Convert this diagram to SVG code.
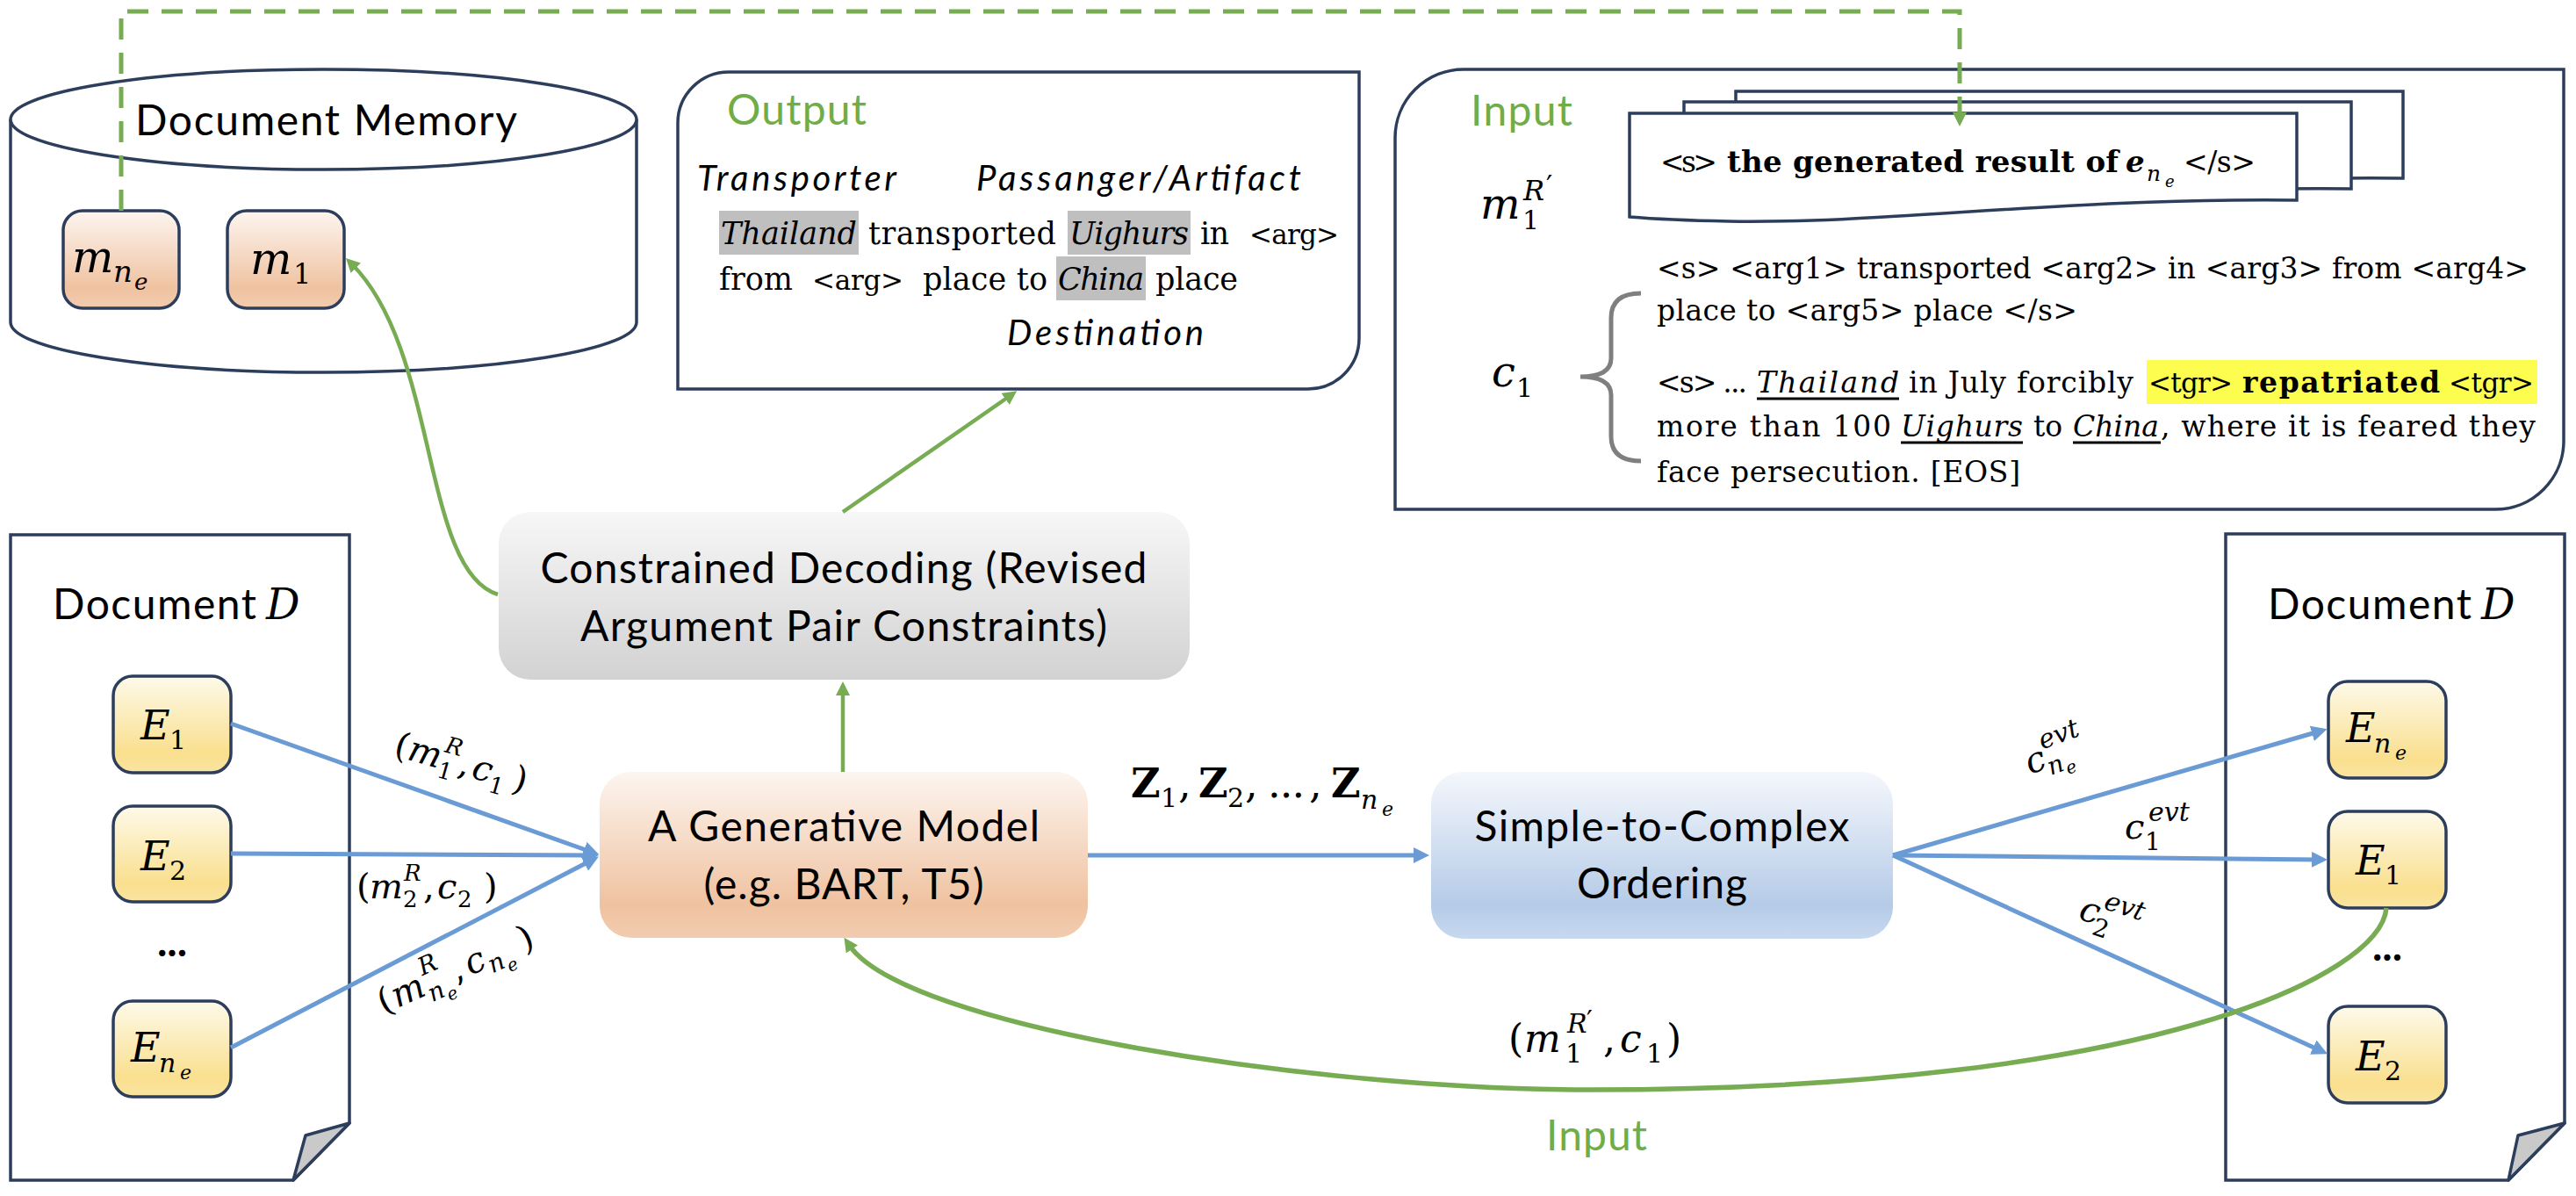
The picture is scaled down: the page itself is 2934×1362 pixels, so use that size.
<svg xmlns="http://www.w3.org/2000/svg" width="2934" height="1362" viewBox="0 0 2934 1362">
<defs>
<style>
.sans{font-family:Lato,"Liberation Sans",sans-serif;}
.serif{font-family:"DejaVu Serif","Liberation Serif",serif;}
.it{font-style:italic;}
.b{font-weight:bold;}
.gtext{fill:#70ad47;}
.navy{fill:#fff;stroke:#2c3e5c;stroke-width:3.5;}
.box{stroke:#2c3e5c;stroke-width:3.5;}
.blue{fill:none;stroke:#6b9bd5;stroke-width:5;marker-end:url(#ab);}
.green{fill:none;stroke:#77ac53;stroke-width:4.5;marker-end:url(#ag);}
.dash{fill:none;stroke:#77ac53;stroke-width:5;stroke-dasharray:24 15;marker-end:url(#ag);}
.hl{fill:#bfbfbf;}
.ul{stroke:#000;stroke-width:3;}
</style>
<linearGradient id="gPeach" x1="0" y1="0" x2="0" y2="1">
<stop offset="0" stop-color="#fdf5f0"/><stop offset="0.8" stop-color="#efc2a0"/><stop offset="1" stop-color="#f2ccb0"/>
</linearGradient>
<linearGradient id="gYellow" x1="0" y1="0" x2="0" y2="1">
<stop offset="0" stop-color="#fefaea"/><stop offset="0.8" stop-color="#f9df8e"/><stop offset="1" stop-color="#fae4a0"/>
</linearGradient>
<linearGradient id="gGray" x1="0" y1="0" x2="0" y2="1">
<stop offset="0" stop-color="#f7f7f7"/><stop offset="1" stop-color="#d2d2d2"/>
</linearGradient>
<linearGradient id="gBlue" x1="0" y1="0" x2="0" y2="1">
<stop offset="0" stop-color="#f4f7fc"/><stop offset="0.8" stop-color="#b5cbe7"/><stop offset="1" stop-color="#c8d9ef"/>
</linearGradient>
<marker id="ab" markerUnits="userSpaceOnUse" markerWidth="18" markerHeight="18" refX="8" refY="9" orient="auto"><path d="M0,0 L18,9 L0,18 Z" fill="#6b9bd5"/></marker>
<marker id="ag" markerUnits="userSpaceOnUse" markerWidth="16" markerHeight="16" refX="6" refY="8" orient="auto"><path d="M0,0 L16,8 L0,16 Z" fill="#77ac53"/></marker>
</defs>
<rect width="2934" height="1362" fill="#fff"/>

<!-- Document Memory -->
<g id="document-memory">
<path class="navy" d="M12,136 V367 A356.5,57 0 0 0 725,367 V136"/>
<ellipse class="navy" cx="368.5" cy="136" rx="356.5" ry="57"/>
<text class="sans" x="154" y="154" font-size="48" textLength="435" lengthAdjust="spacing">Document Memory</text>
</g>
<g id="memory-m-ne">
<rect class="box" x="72" y="240" width="132" height="111" rx="22" fill="url(#gPeach)"/>
<text class="serif it" x="82" y="310" font-size="50">m</text>
<text class="serif it" x="129" y="321" font-size="34">n</text>
<text class="serif it" x="153" y="330" font-size="26">e</text>
</g>
<g id="memory-m1">
<rect class="box" x="259" y="240" width="133" height="111" rx="22" fill="url(#gPeach)"/>
<text class="serif it" x="285" y="312" font-size="50">m</text>
<text class="serif" x="334" y="323" font-size="32">1</text>
</g>

<!-- Output box -->
<g id="output-box">
<path class="navy" d="M830,82 H1548 V385 A58,58 0 0 1 1490,443 H772 V140 A58,58 0 0 1 830,82 Z"/>
<text class="sans gtext" x="828" y="142" font-size="48" textLength="159" lengthAdjust="spacing">Output</text>
<text class="sans it" x="794" y="217" font-size="40" textLength="227" lengthAdjust="spacing">Transporter</text>
<text class="sans it" x="1112" y="217" font-size="40" textLength="370" lengthAdjust="spacing">Passanger/Artifact</text>
<rect class="hl" x="819" y="240" width="159" height="50"/>
<rect class="hl" x="1216" y="240" width="140" height="50"/>
<rect class="hl" x="1203" y="292" width="102" height="50"/>
<text class="serif it" x="821" y="278" font-size="35" textLength="155" lengthAdjust="spacing">Thailand</text>
<text class="serif" x="989" y="278" font-size="35" textLength="214" lengthAdjust="spacing">transported</text>
<text class="serif it" x="1218" y="278" font-size="35" textLength="136" lengthAdjust="spacing">Uighurs</text>
<text class="serif" x="1367" y="278" font-size="35" textLength="33" lengthAdjust="spacing">in</text>
<text class="serif" x="1423" y="278" font-size="31" textLength="102" lengthAdjust="spacing">&lt;arg&gt;</text>
<text class="serif" x="819" y="330" font-size="35" textLength="84" lengthAdjust="spacing">from</text>
<text class="serif" x="925" y="330" font-size="31" textLength="104" lengthAdjust="spacing">&lt;arg&gt;</text>
<text class="serif" x="1051" y="330" font-size="35" textLength="142" lengthAdjust="spacing">place to</text>
<text class="serif it" x="1205" y="330" font-size="35" textLength="98" lengthAdjust="spacing">China</text>
<text class="serif" x="1316" y="330" font-size="35" textLength="94" lengthAdjust="spacing">place</text>
<text class="sans it" x="1147" y="393" font-size="40" textLength="224" lengthAdjust="spacing">Destination</text>
</g>

<!-- Input box -->
<g id="input-box">
<path class="navy" d="M1667,79 H2920 V502 A78,78 0 0 1 2842,580 H1589 V157 A78,78 0 0 1 1667,79 Z"/>
<text class="sans gtext" x="1675" y="143" font-size="48" textLength="116" lengthAdjust="spacing">Input</text>
<g id="stacked-pages">
<path class="navy" transform="translate(121,-25)" d="M1856,129 H2616 V228 C2350,225 2150,255 1969,252 C1920,251 1880,249 1856,247 Z"/>
<path class="navy" transform="translate(62,-13)" d="M1856,129 H2616 V228 C2350,225 2150,255 1969,252 C1920,251 1880,249 1856,247 Z"/>
<path class="navy" d="M1856,129 H2616 V228 C2350,225 2150,255 1969,252 C1920,251 1880,249 1856,247 Z"/>
<text class="serif" x="1891" y="196" font-size="33" textLength="65" lengthAdjust="spacing">&lt;s&gt;</text>
<text class="serif b" x="1967" y="196" font-size="34" textLength="446" lengthAdjust="spacing">the generated result of</text>
<text class="serif b it" x="2421" y="196" font-size="34">e</text>
<text class="serif it" x="2445" y="206" font-size="25">n</text>
<text class="serif it" x="2466" y="213" font-size="18">e</text>
<text class="serif" x="2487" y="196" font-size="33" textLength="82" lengthAdjust="spacing">&lt;/s&gt;</text>
</g>
<text class="serif it" x="1686" y="249" font-size="48">m</text>
<text class="serif" x="1734" y="261" font-size="30">1</text>
<text class="serif it" x="1735" y="228" font-size="32">R</text>
<text class="serif" x="1761" y="222" font-size="32">′</text>
<text class="serif it" x="1699" y="440" font-size="48">c</text>
<text class="serif" x="1727" y="452" font-size="30">1</text>
<path d="M1869,334 Q1835,334 1835,362 L1835,408 Q1835,429 1800,429 Q1835,429 1835,450 L1835,497 Q1835,525 1869,525" fill="none" stroke="#7f7f7f" stroke-width="5"/>
<text class="serif" x="1887" y="317" font-size="33" textLength="993" lengthAdjust="spacing">&lt;s&gt; &lt;arg1&gt; transported &lt;arg2&gt; in &lt;arg3&gt; from &lt;arg4&gt;</text>
<text class="serif" x="1887" y="365" font-size="33" textLength="479" lengthAdjust="spacing">place to &lt;arg5&gt; place &lt;/s&gt;</text>
<rect x="2445" y="410" width="445" height="50" fill="#fdfd50"/>
<text class="serif" x="1887" y="447" font-size="33" textLength="103" lengthAdjust="spacing">&lt;s&gt; ...</text>
<text class="serif it" x="2001" y="447" font-size="33" textLength="162" lengthAdjust="spacing">Thailand</text>
<line class="ul" x1="2001" y1="454" x2="2163" y2="454"/>
<text class="serif" x="2174" y="447" font-size="33" textLength="256" lengthAdjust="spacing">in July forcibly</text>
<text class="serif" x="2447" y="447" font-size="31" textLength="96" lengthAdjust="spacing">&lt;tgr&gt;</text>
<text class="serif b" x="2554" y="447" font-size="33" textLength="225" lengthAdjust="spacing">repatriated</text>
<text class="serif" x="2789" y="447" font-size="31" textLength="97" lengthAdjust="spacing">&lt;tgr&gt;</text>
<text class="serif" x="1887" y="497" font-size="33" textLength="267" lengthAdjust="spacing">more than 100</text>
<text class="serif it" x="2165" y="497" font-size="33" textLength="139" lengthAdjust="spacing">Uighurs</text>
<line class="ul" x1="2165" y1="504" x2="2304" y2="504"/>
<text class="serif" x="2316" y="497" font-size="33" textLength="33" lengthAdjust="spacing">to</text>
<text class="serif it" x="2361" y="497" font-size="33" textLength="98" lengthAdjust="spacing">China</text>
<line class="ul" x1="2361" y1="504" x2="2461" y2="504"/>
<text class="serif" x="2461" y="497" font-size="33" textLength="427" lengthAdjust="spacing">, where it is feared they</text>
<text class="serif" x="1887" y="549" font-size="33" textLength="414" lengthAdjust="spacing">face persecution. [EOS]</text>
</g>

<!-- Left document -->
<g id="document-left">
<path class="navy" d="M12,609 H398 V1279 L334,1344 H12 Z"/>
<path d="M348,1293 L398,1279 L334,1344 Z" fill="#c9c9c9" stroke="#2c3e5c" stroke-width="3.5" stroke-linejoin="round"/>
<text class="sans" x="60" y="705" font-size="48" textLength="232" lengthAdjust="spacing">Document</text>
<text class="serif it" x="303" y="705" font-size="48">D</text>
<text class="sans b" x="196" y="1089" font-size="48" text-anchor="middle">...</text>
</g>
<g id="left-E1">
<rect class="box" x="129" y="770" width="134" height="110" rx="22" fill="url(#gYellow)"/>
<text class="serif it" x="160" y="842" font-size="46">E</text>
<text class="serif" x="193" y="853" font-size="30">1</text>
</g>
<g id="left-E2">
<rect class="box" x="129" y="918" width="134" height="109" rx="22" fill="url(#gYellow)"/>
<text class="serif it" x="160" y="991" font-size="46">E</text>
<text class="serif" x="193" y="1002" font-size="30">2</text>
</g>
<g id="left-Ene">
<rect class="box" x="129" y="1140" width="134" height="109" rx="22" fill="url(#gYellow)"/>
<text class="serif it" x="149" y="1209" font-size="46">E</text>
<text class="serif it" x="181" y="1221" font-size="30">n</text>
<text class="serif it" x="205" y="1229" font-size="22">e</text>
</g>

<!-- Right document -->
<g id="document-right">
<path class="navy" d="M2535,608 H2921 V1279 L2857,1344 H2535 Z"/>
<path d="M2868,1293 L2921,1279 L2857,1344 Z" fill="#c9c9c9" stroke="#2c3e5c" stroke-width="3.5" stroke-linejoin="round"/>
<text class="sans" x="2583" y="705" font-size="48" textLength="232" lengthAdjust="spacing">Document</text>
<text class="serif it" x="2826" y="705" font-size="48">D</text>
<text class="sans b" x="2719" y="1094" font-size="48" text-anchor="middle">...</text>
</g>
<g id="right-Ene">
<rect class="box" x="2652" y="776" width="134" height="110" rx="22" fill="url(#gYellow)"/>
<text class="serif it" x="2672" y="845" font-size="46">E</text>
<text class="serif it" x="2704" y="857" font-size="30">n</text>
<text class="serif it" x="2728" y="865" font-size="22">e</text>
</g>
<g id="right-E1">
<rect class="box" x="2652" y="924" width="134" height="110" rx="22" fill="url(#gYellow)"/>
<text class="serif it" x="2683" y="996" font-size="46">E</text>
<text class="serif" x="2716" y="1007" font-size="30">1</text>
</g>
<g id="right-E2">
<rect class="box" x="2652" y="1146" width="134" height="110" rx="22" fill="url(#gYellow)"/>
<text class="serif it" x="2683" y="1219" font-size="46">E</text>
<text class="serif" x="2716" y="1230" font-size="30">2</text>
</g>

<!-- Center nodes -->
<g id="constrained-decoding">
<rect x="568" y="583" width="787" height="191" rx="36" fill="url(#gGray)"/>
<text class="sans" x="961" y="664" font-size="48" text-anchor="middle" textLength="691" lengthAdjust="spacing">Constrained Decoding (Revised</text>
<text class="sans" x="961" y="730" font-size="48" text-anchor="middle" textLength="600" lengthAdjust="spacing">Argument Pair Constraints)</text>
</g>
<g id="generative-model">
<rect x="683" y="879" width="556" height="189" rx="36" fill="url(#gPeach)"/>
<text class="sans" x="961" y="958" font-size="48" text-anchor="middle" textLength="446" lengthAdjust="spacing">A Generative Model</text>
<text class="sans" x="961" y="1024" font-size="48" text-anchor="middle" textLength="319" lengthAdjust="spacing">(e.g. BART, T5)</text>
</g>
<g id="simple-to-complex">
<rect x="1630" y="879" width="526" height="190" rx="36" fill="url(#gBlue)"/>
<text class="sans" x="1893" y="958" font-size="48" text-anchor="middle" textLength="427" lengthAdjust="spacing">Simple-to-Complex</text>
<text class="sans" x="1893" y="1023" font-size="48" text-anchor="middle" textLength="194" lengthAdjust="spacing">Ordering</text>
</g>

<!-- Connectors -->
<g id="connectors">
<path class="dash" d="M138,240 V13 H2232 V134"/>
<path class="green" d="M567,677 C480,650 500,400 401,301"/>
<path class="green" d="M960,583 L1150,451"/>
<path class="green" d="M960,879 L960,786"/>
<path class="blue" d="M263,824 L673,970"/>
<path class="blue" d="M263,972 L672,974"/>
<path class="blue" d="M263,1193 L673,980"/>
<path class="blue" d="M1239,974 L1618,974"/>
<path class="blue" d="M2156,974 L2641,833"/>
<path class="blue" d="M2156,974 L2641,979"/>
<path class="blue" d="M2156,974 L2642,1196"/>
<path class="green" style="stroke-width:5.5" d="M2718,1034 C2712,1110 2450,1241 1812,1241 C1500,1241 1030,1170 967,1076"/>
</g>

<!-- Connector labels -->
<g id="connector-labels">
<g transform="translate(447,860) rotate(16)">
<text class="serif" x="0" y="0" font-size="40">(</text>
<text class="serif it" x="16" y="0" font-size="40">m</text>
<text class="serif it" x="55" y="-20" font-size="26">R</text>
<text class="serif" x="54" y="10" font-size="26">1</text>
<text class="serif" x="76" y="0" font-size="40">,</text>
<text class="serif it" x="92" y="0" font-size="40">c</text>
<text class="serif" x="115" y="10" font-size="26">1</text>
<text class="serif" x="140" y="0" font-size="40">)</text>
</g>
<g transform="translate(406,1023)">
<text class="serif" x="0" y="0" font-size="40">(</text>
<text class="serif it" x="15" y="0" font-size="40">m</text>
<text class="serif it" x="54" y="-20" font-size="26">R</text>
<text class="serif" x="53" y="10" font-size="26">2</text>
<text class="serif" x="76" y="0" font-size="40">,</text>
<text class="serif it" x="92" y="0" font-size="40">c</text>
<text class="serif" x="115" y="10" font-size="26">2</text>
<text class="serif" x="145" y="0" font-size="40">)</text>
</g>
<g transform="translate(437,1155) rotate(-24)">
<text class="serif" x="0" y="0" font-size="40">(</text>
<text class="serif it" x="17" y="0" font-size="40">m</text>
<text class="serif it" x="58" y="-22" font-size="28">R</text>
<text class="serif it" x="56" y="10" font-size="28">n</text>
<text class="serif it" x="75" y="17" font-size="20">e</text>
<text class="serif" x="90" y="0" font-size="40">,</text>
<text class="serif it" x="108" y="0" font-size="40">c</text>
<text class="serif it" x="132" y="8" font-size="28">n</text>
<text class="serif it" x="151" y="15" font-size="20">e</text>
<text class="serif" x="175" y="0" font-size="40">)</text>
</g>
<g id="z-label">
<text class="serif b" x="1288" y="908" font-size="46">Z</text>
<text class="serif" x="1322" y="919" font-size="30">1</text>
<text class="serif" x="1342" y="908" font-size="46">,</text>
<text class="serif b" x="1365" y="908" font-size="46">Z</text>
<text class="serif" x="1398" y="919" font-size="30">2</text>
<text class="serif" x="1418" y="908" font-size="46">,</text>
<text class="serif" x="1444" y="908" font-size="46" textLength="42" lengthAdjust="spacing">...</text>
<text class="serif" x="1491" y="908" font-size="46">,</text>
<text class="serif b" x="1516" y="908" font-size="46">Z</text>
<text class="serif it" x="1550" y="921" font-size="30">n</text>
<text class="serif it" x="1574" y="929" font-size="22">e</text>
</g>
<g transform="translate(2312,882) rotate(-20)">
<text class="serif it" x="0" y="0" font-size="40">c</text>
<text class="serif it" x="23" y="-22" font-size="30">evt</text>
<text class="serif it" x="22" y="9" font-size="28">n</text>
<text class="serif it" x="41" y="15" font-size="20">e</text>
</g>
<g>
<text class="serif it" x="2420" y="955" font-size="40">c</text>
<text class="serif it" x="2447" y="935" font-size="30">evt</text>
<text class="serif" x="2443" y="968" font-size="28">1</text>
</g>
<g transform="translate(2366,1046) rotate(18)">
<text class="serif it" x="0" y="0" font-size="40">c</text>
<text class="serif it" x="24" y="-20" font-size="30">evt</text>
<text class="serif" x="20" y="12" font-size="28">2</text>
</g>
<g>
<text class="serif" x="1718" y="1198" font-size="44">(</text>
<text class="serif it" x="1736" y="1198" font-size="44">m</text>
<text class="serif it" x="1785" y="1176" font-size="30">R</text>
<text class="serif" x="1807" y="1172" font-size="30">′</text>
<text class="serif" x="1783" y="1210" font-size="30">1</text>
<text class="serif" x="1826" y="1198" font-size="44">,</text>
<text class="serif it" x="1845" y="1198" font-size="44">c</text>
<text class="serif" x="1875" y="1210" font-size="30">1</text>
<text class="serif" x="1898" y="1198" font-size="44">)</text>
</g>
<text class="sans gtext" x="1761" y="1310" font-size="48" textLength="115" lengthAdjust="spacing">Input</text>
</g>
</svg>
